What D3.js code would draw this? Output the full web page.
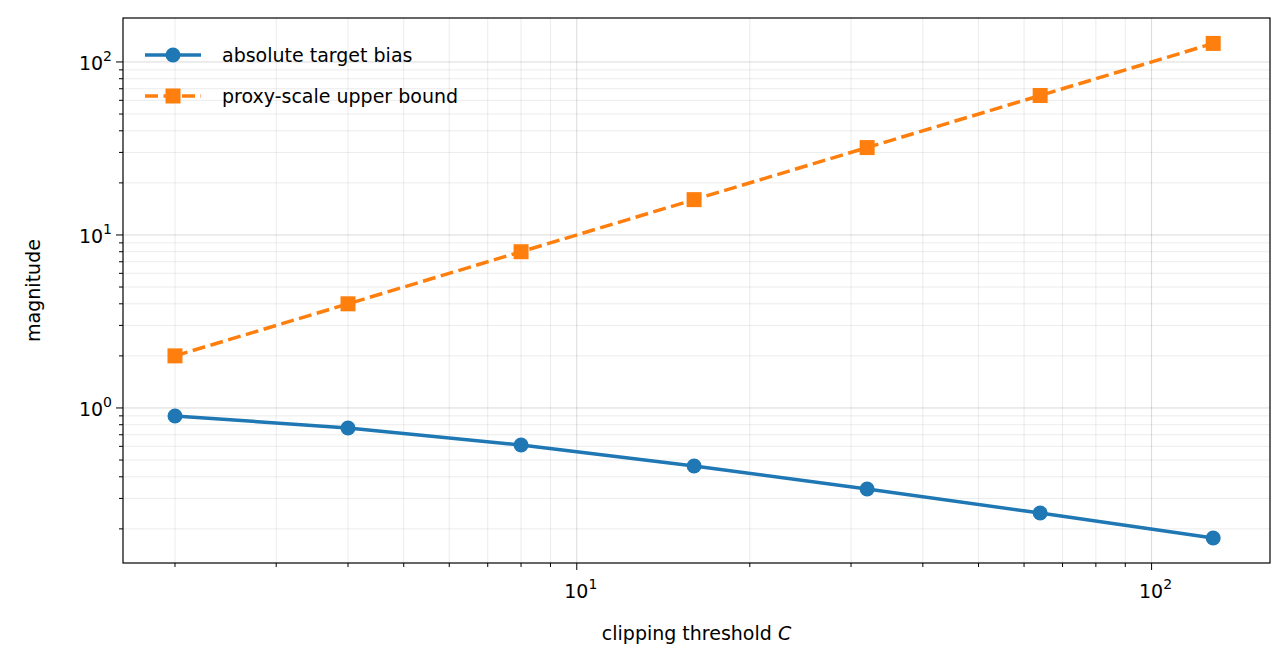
<!DOCTYPE html>
<html><head><meta charset="utf-8">
<script src="https://cdn.jsdelivr.net/npm/d3@7"></script>
<style>body{margin:0;background:#fff}svg{font-family:"DejaVu Sans",sans-serif}</style>
</head><body><svg id="c" width="1284" height="670"></svg>
<script>
const thresholds = [2, 4, 8, 16, 32, 64, 128];
const targetBias = [0.899, 0.766, 0.611, 0.462, 0.340, 0.247, 0.177];
const proxyBound = [2, 4, 8, 16, 32, 64, 128];
const xTicks = [10, 100];
const yTicks = [1, 10, 100];

const margin = {left: 123, right: 14, top: 18, bottom: 107};
const W = 1284, H = 670;
const svg = d3.select("#c");
const x = d3.scaleLog().domain([1.624, 160.7]).range([margin.left, W - margin.right]);
const y = d3.scaleLog().domain([0.127, 179.5]).range([H - margin.bottom, margin.top]);

// grid
const minorX = [], minorY = [];
for (let e = 0; e <= 2; e++) for (let m = 1; m < 10; m++) { const v = m * 10 ** e; if (v >= 1.624 && v <= 160.7) minorX.push(v); }
for (let e = -1; e <= 2; e++) for (let m = 1; m < 10; m++) { const v = m * 10 ** e; if (v >= 0.127 && v <= 179.5) minorY.push(v); }
const g = svg.append("g");
g.selectAll(".gx").data(minorX).join("line").attr("x1", d => x(d)).attr("x2", d => x(d))
  .attr("y1", margin.top).attr("y2", H - margin.bottom)
  .attr("stroke", "#000").attr("stroke-opacity", d => xTicks.includes(d) ? 0.15 : 0.08);
g.selectAll(".gy").data(minorY).join("line").attr("y1", d => y(d)).attr("y2", d => y(d))
  .attr("x1", margin.left).attr("x2", W - margin.right)
  .attr("stroke", "#000").attr("stroke-opacity", d => yTicks.includes(d) ? 0.15 : 0.08);

// axes ticks
const ax = svg.append("g").attr("font-size", 19);
minorX.forEach(v => {
  const major = xTicks.includes(v);
  ax.append("line").attr("x1", x(v)).attr("x2", x(v)).attr("y1", H - margin.bottom)
    .attr("y2", H - margin.bottom + (major ? 7 : 4)).attr("stroke", "#000");
});
minorY.forEach(v => {
  const major = yTicks.includes(v);
  ax.append("line").attr("y1", y(v)).attr("y2", y(v)).attr("x1", margin.left)
    .attr("x2", margin.left - (major ? 7 : 4)).attr("stroke", "#000");
});
function expLabel(sel, e) {
  sel.append("tspan").text("10");
  sel.append("tspan").attr("dy", -9).attr("font-size", 14).text(e);
}
xTicks.forEach(v => {
  ax.append("text").attr("x", x(v) + 4).attr("y", H - margin.bottom + 35).attr("text-anchor", "middle")
    .call(s => expLabel(s, Math.round(Math.log10(v))));
});
yTicks.forEach(v => {
  ax.append("text").attr("x", margin.left - 11).attr("y", y(v) + 8).attr("text-anchor", "end")
    .call(s => expLabel(s, Math.round(Math.log10(v))));
});
svg.append("rect").attr("x", margin.left).attr("y", margin.top)
  .attr("width", W - margin.left - margin.right).attr("height", H - margin.top - margin.bottom)
  .attr("fill", "none").attr("stroke", "#000").attr("stroke-width", 1.2);

const xl = svg.append("text").attr("x", (margin.left + W - margin.right) / 2).attr("y", 640)
  .attr("text-anchor", "middle").attr("font-size", 19);
xl.append("tspan").text("clipping threshold ");
xl.append("tspan").attr("font-style", "italic").text("C");
svg.append("text").attr("transform", `translate(40,${(margin.top + H - margin.bottom) / 2}) rotate(-90)`)
  .attr("text-anchor", "middle").attr("font-size", 19).text("magnitude");

// series
const line = d3.line().x((d, i) => x(thresholds[i])).y(d => y(d));
svg.append("path").attr("d", line(targetBias)).attr("fill", "none").attr("stroke", "#1f77b4").attr("stroke-width", 3.5);
svg.selectAll(".pb").data(targetBias).join("circle").attr("cx", (d, i) => x(thresholds[i])).attr("cy", d => y(d))
  .attr("r", 7.5).attr("fill", "#1f77b4");
svg.append("path").attr("d", line(proxyBound)).attr("fill", "none").attr("stroke", "#ff7f0e")
  .attr("stroke-width", 3.5).attr("stroke-dasharray", "13,5.5");
svg.selectAll(".pp").data(proxyBound).join("rect").attr("x", (d, i) => x(thresholds[i]) - 7.5).attr("y", d => y(d) - 7.5)
  .attr("width", 15).attr("height", 15).attr("fill", "#ff7f0e");

// legend
const lg = svg.append("g").attr("font-size", 19);
lg.append("line").attr("x1", 145).attr("x2", 201).attr("y1", 55).attr("y2", 55).attr("stroke", "#1f77b4").attr("stroke-width", 3.5);
lg.append("circle").attr("cx", 173).attr("cy", 55).attr("r", 7.5).attr("fill", "#1f77b4");
lg.append("text").attr("x", 222).attr("y", 62).text("absolute target bias");
lg.append("line").attr("x1", 145).attr("x2", 201).attr("y1", 96).attr("y2", 96).attr("stroke", "#ff7f0e")
  .attr("stroke-width", 3.5).attr("stroke-dasharray", "13,5.5");
lg.append("rect").attr("x", 165.5).attr("y", 88.5).attr("width", 15).attr("height", 15).attr("fill", "#ff7f0e");
lg.append("text").attr("x", 222).attr("y", 103).text("proxy-scale upper bound");
</script></body></html>
